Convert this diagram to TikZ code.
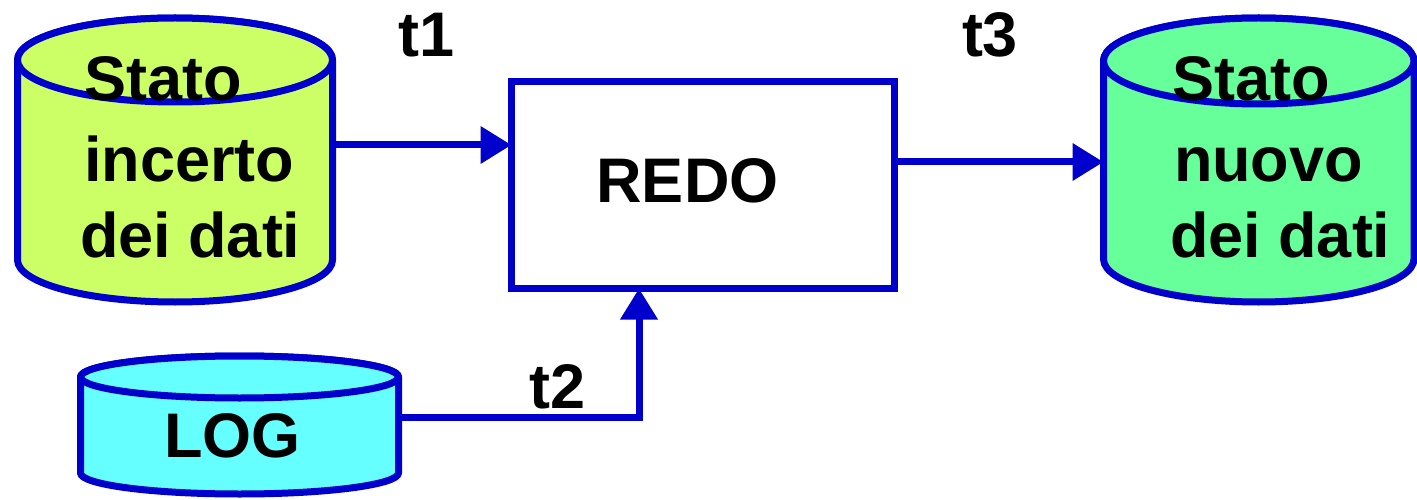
\documentclass[tikz,border=0pt]{standalone}
\usepackage{fontspec}
\setmainfont{Liberation Sans}
\usetikzlibrary{arrows.meta}
\definecolor{lineblue}{HTML}{0000CC}
\definecolor{limefill}{HTML}{CCFF66}
\definecolor{mintfill}{HTML}{66FF99}
\definecolor{cyanfill}{HTML}{66FFFF}
\tikzset{
  lbl/.style={font=\fontsize{63}{75}\selectfont\bfseries, inner sep=0pt, outer sep=0pt},
  cylframe/.style={inner sep=0pt, outer sep=0pt},
  cylline/.style={draw=lineblue, line width=7pt, line join=round},
  conn/.style={draw=lineblue, line width=7pt, -{Triangle[length=31pt,width=36pt]}},
  boxstyle/.style={draw=lineblue, line width=7pt, fill=white, inner sep=0pt, outer sep=0pt, minimum width=383pt, minimum height=207pt}
}
\begin{document}
\begin{tikzpicture}[x=1pt,y=1pt]
\useasboundingbox (0,0) rectangle (1417,499);
% ---- left cylinder: Stato incerto dei dati
\node[cylframe, minimum width=315pt, minimum height=200pt] (incerto) at (175,339) {};
\path[cylline, fill=limefill] (17.5,439) -- (17.5,239)
  arc[start angle=180, end angle=360, x radius=157.5pt, y radius=42pt]
  -- (332.5,439)
  arc[start angle=0, end angle=180, x radius=157.5pt, y radius=42pt] -- cycle;
\path[cylline, fill=limefill] (175,439) ellipse [x radius=157.5pt, y radius=42pt];
\node[lbl, anchor=base west] (inc1) at (84,398) {Stato};
\node[lbl, anchor=base west] (inc2) at (84,317) {incerto};
\node[lbl, anchor=base west] (inc3) at (80,241.5) {dei dati};
% ---- right cylinder: Stato nuovo dei dati
\node[cylframe, minimum width=310.5pt, minimum height=198pt] (nuovo) at (1258.75,339) {};
\path[cylline, fill=mintfill] (1103.5,438) -- (1103.5,240)
  arc[start angle=180, end angle=360, x radius=155.25pt, y radius=43pt]
  -- (1414,438)
  arc[start angle=0, end angle=180, x radius=155.25pt, y radius=43pt] -- cycle;
\path[cylline, fill=mintfill] (1258.75,438) ellipse [x radius=155.25pt, y radius=43pt];
\node[lbl, anchor=base west] (nuo1) at (1172,398) {Stato};
\node[lbl, anchor=base west] (nuo2) at (1174,317) {nuovo};
\node[lbl, anchor=base west] (nuo3) at (1170,241.5) {dei dati};
% ---- LOG cylinder
\node[cylframe, minimum width=318pt, minimum height=96pt] (log) at (239.5,74) {};
\path[cylline, fill=cyanfill] (80.5,122) -- (80.5,26)
  arc[start angle=180, end angle=360, x radius=159pt, y radius=21pt]
  -- (398.5,122)
  arc[start angle=0, end angle=180, x radius=159pt, y radius=21pt] -- cycle;
\path[cylline, fill=cyanfill] (239.5,122) ellipse [x radius=159pt, y radius=21pt];
\node[lbl, anchor=base] (logtxt) at (232.5,42) {LOG};
% ---- REDO box
\node[boxstyle] (redo) at (703,314) {};
\node[lbl, anchor=base] (redotxt) at (687.5,297) {REDO};
% ---- time labels
\node[lbl, anchor=base] (t1) at (427,442) {t1};
\node[lbl, anchor=base] (t3) at (990,442) {t3};
\node[lbl, anchor=base] (t2) at (558,91) {t2};
% ---- connectors
\coordinate (a1) at ([yshift=15pt]incerto.east);
\draw[conn] (a1) -- (a1 -| redo.west);
\coordinate (a2) at ([yshift=23pt]redo.east);
\draw[conn] (a2) -- (a2 -| nuovo.west);
\coordinate (a3) at ([yshift=8pt]log.east);
\coordinate (a4) at ([xshift=-64pt]redo.south);
\draw[conn] (a3) -| (a4);
\end{tikzpicture}
\end{document}
